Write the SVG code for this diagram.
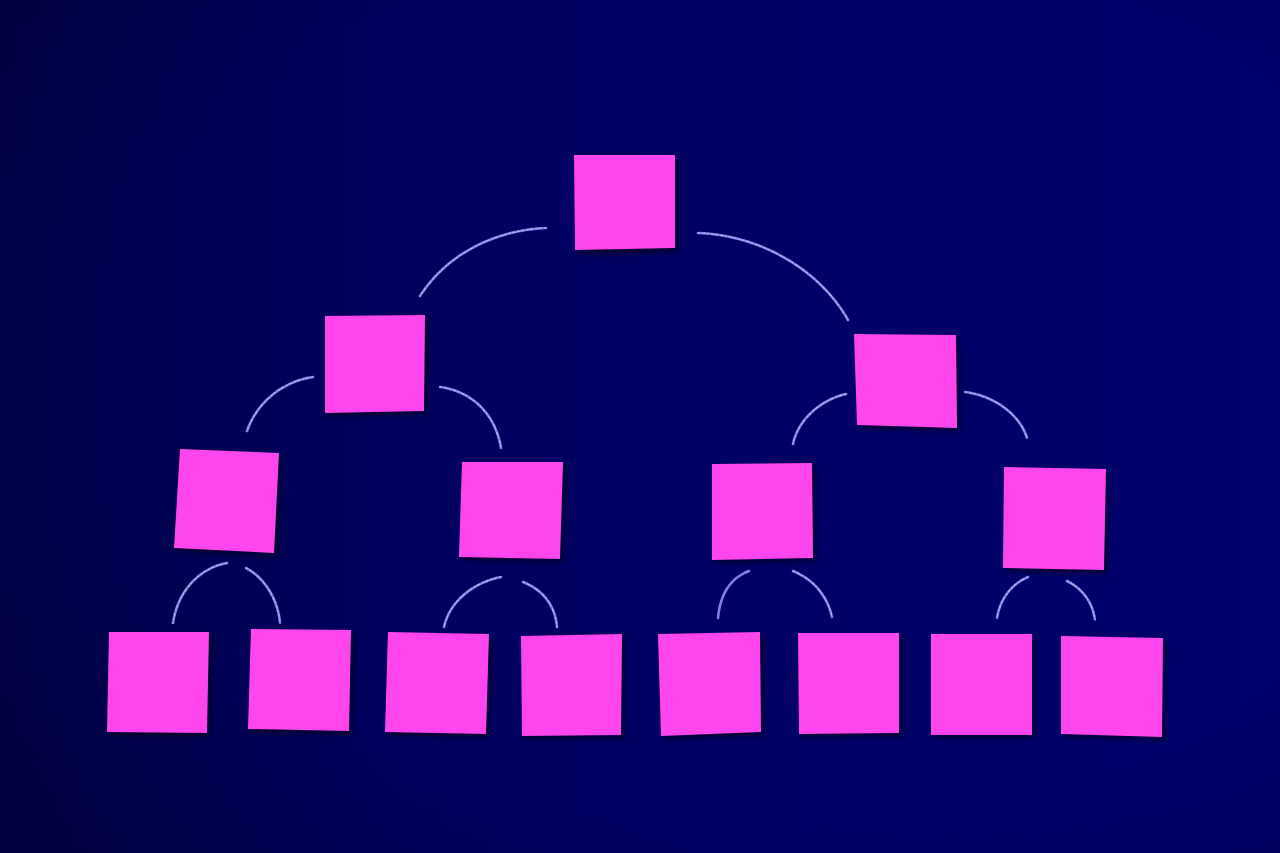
<svg xmlns="http://www.w3.org/2000/svg" width="1280" height="853" viewBox="0 0 1280 853">
  <defs>
    <linearGradient id="bg" x1="0" y1="0" x2="1" y2="0">
      <stop offset="0" stop-color="#00004a"/>
      <stop offset="0.3" stop-color="#00005e"/>
      <stop offset="0.7" stop-color="#000068"/>
      <stop offset="1" stop-color="#00006e"/>
    </linearGradient>
    <radialGradient id="vig" cx="0.6" cy="0.45" r="0.8">
      <stop offset="0.65" stop-color="#000020" stop-opacity="0"/>
      <stop offset="1" stop-color="#000020" stop-opacity="0.3"/>
    </radialGradient>
    <filter id="shadow" x="-20%" y="-20%" width="140%" height="140%">
      <feGaussianBlur stdDeviation="2.5"/>
    </filter>
  </defs>
  <style>
    .note { fill: #ff45ee; }
    .sh { fill: #000018; opacity: 0.7; filter: url(#shadow); }
    .chalk { fill: none; stroke: #9b97f5; stroke-width: 2.6; stroke-linecap: round; stroke-dasharray: 5 1.2 2 1 3 1.5; opacity: 0.85; }
    .chalk2 { fill: none; stroke: #d0ccff; stroke-width: 1.1; stroke-linecap: round; stroke-dasharray: 1.5 3 2.5 2; opacity: 0.7; }
  </style>
  <rect width="1280" height="853" fill="url(#bg)"/>
  <rect width="1280" height="853" fill="url(#vig)"/>

  <g id="connectors">
    <path class="chalk" d="M546,228 C500,230 450,250 420,296"/>
    <path class="chalk" d="M698,233 C760,235 820,270 848,320"/>
    <path class="chalk" d="M313,377 C285,381 258,400 247,431"/>
    <path class="chalk" d="M440,387 C470,391 495,412 501,448"/>
    <path class="chalk" d="M846,394 C820,400 798,420 793,444"/>
    <path class="chalk" d="M965,392 C995,396 1020,415 1027,438"/>
    <path class="chalk" d="M227,563 C200,568 178,590 173,623"/>
    <path class="chalk" d="M246,568 C265,578 278,600 280,623"/>
    <path class="chalk" d="M501,577 C475,582 450,600 444,627"/>
    <path class="chalk" d="M523,582 C543,590 555,605 557,627"/>
    <path class="chalk" d="M749,571 C730,578 720,595 718,618"/>
    <path class="chalk" d="M793,571 C815,580 828,598 832,617"/>
    <path class="chalk" d="M1028,577 C1010,585 1000,600 997,618"/>
    <path class="chalk" d="M1067,581 C1085,590 1093,605 1095,620"/>
    <g>
      <path class="chalk2" d="M546,228 C500,230 450,250 420,296"/>
      <path class="chalk2" d="M698,233 C760,235 820,270 848,320"/>
      <path class="chalk2" d="M313,377 C285,381 258,400 247,431"/>
      <path class="chalk2" d="M440,387 C470,391 495,412 501,448"/>
      <path class="chalk2" d="M846,394 C820,400 798,420 793,444"/>
      <path class="chalk2" d="M965,392 C995,396 1020,415 1027,438"/>
      <path class="chalk2" d="M227,563 C200,568 178,590 173,623"/>
      <path class="chalk2" d="M246,568 C265,578 278,600 280,623"/>
      <path class="chalk2" d="M501,577 C475,582 450,600 444,627"/>
      <path class="chalk2" d="M523,582 C543,590 555,605 557,627"/>
      <path class="chalk2" d="M793,571 C815,580 828,598 832,617"/>
      <path class="chalk2" d="M1028,577 C1010,585 1000,600 997,618"/>
      <path class="chalk2" d="M1067,581 C1085,590 1093,605 1095,620"/>
    </g>
  </g>

  <g id="n-root">
    <polygon class="sh" points="578,158 678,158 678,252 579,254"/>
    <polygon class="note" points="574,155 675,155 675,248 575,250"/>
  </g>
  <g id="n-l">
    <polygon class="sh" points="328,319 428,318 427,414 328,416"/>
    <polygon class="note" points="325,316 425,315 424,411 325,413"/>
  </g>
  <g id="n-r">
    <polygon class="sh" points="857,337 959,338 960,431 860,428"/>
    <polygon class="note" points="854,334 956,335 957,428 857,425"/>
  </g>
  <g id="n-ll">
    <polygon class="sh" points="183,452 282,456 277,556 177,551"/>
    <polygon class="note" points="180,449 279,453 274,553 174,548"/>
  </g>
  <g id="n-lr">
    <polygon class="sh" points="465,465 566,465 563,562 462,560"/>
    <polygon class="note" points="462,462 563,462 560,559 459,557"/>
  </g>
  <g id="n-rl">
    <polygon class="sh" points="715,467 815,466 816,561 715,563"/>
    <polygon class="note" points="712,464 812,463 813,558 712,560"/>
  </g>
  <g id="n-rr">
    <polygon class="sh" points="1007,470 1109,472 1107,573 1006,571"/>
    <polygon class="note" points="1004,467 1106,469 1104,570 1003,568"/>
  </g>
  <g id="n-1">
    <polygon class="sh" points="112,635 212,635 210,736 110,735"/>
    <polygon class="note" points="109,632 209,632 207,733 107,732"/>
  </g>
  <g id="n-2">
    <polygon class="sh" points="254,632 354,633 352,734 251,732"/>
    <polygon class="note" points="251,629 351,630 349,731 248,729"/>
  </g>
  <g id="n-3">
    <polygon class="sh" points="391,635 492,637 489,737 388,735"/>
    <polygon class="note" points="388,632 489,634 486,734 385,732"/>
  </g>
  <g id="n-4">
    <polygon class="sh" points="524,639 625,637 624,738 525,739"/>
    <polygon class="note" points="521,636 622,634 621,735 522,736"/>
  </g>
  <g id="n-5">
    <polygon class="sh" points="661,637 763,635 764,735 664,739"/>
    <polygon class="note" points="658,634 760,632 761,732 661,736"/>
  </g>
  <g id="n-6">
    <polygon class="sh" points="801,636 902,636 902,736 802,737"/>
    <polygon class="note" points="798,633 899,633 899,733 799,734"/>
  </g>
  <g id="n-7">
    <polygon class="sh" points="934,637 1035,637 1035,738 934,738"/>
    <polygon class="note" points="931,634 1032,634 1032,735 931,735"/>
  </g>
  <g id="n-8">
    <polygon class="sh" points="1064,639 1166,641 1165,740 1064,737"/>
    <polygon class="note" points="1061,636 1163,638 1162,737 1061,734"/>
  </g>
</svg>
